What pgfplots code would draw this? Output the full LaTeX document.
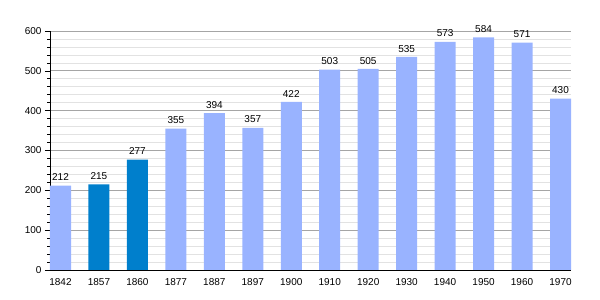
\documentclass[border=0pt]{standalone}
\usepackage{pgfplots}
\pgfplotsset{compat=1.18}
\usepackage{fontspec}
\setmainfont{Liberation Sans}
\definecolor{lightbar}{RGB}{153,179,255}
\definecolor{darkbar}{RGB}{0,127,204}
\definecolor{majgrid}{RGB}{165,165,165}
\definecolor{mingrid}{RGB}{226,226,226}
\begin{document}
\begin{tikzpicture}
\path[use as bounding box] (0,0) rectangle (600bp,300bp);
\begin{axis}[
  at={(50bp,30bp)}, anchor=south west,
  scale only axis, width=521bp, height=239bp,
  xmin=-0.273, xmax=13.273, ymin=0, ymax=600,
  axis x line=bottom, axis y line=left,
  axis line style={-, black, line width=0.8bp},
  xtick={0,...,13},
  xticklabels={1842,1857,1860,1877,1887,1897,1900,1910,1920,1930,1940,1950,1960,1970},
  x tick style={draw=none},
  ytick={0,100,...,600},
  minor y tick num=4,
  tick align=outside,
  major tick length=5bp, minor tick length=2.5bp,
  y tick style={black, line width=0.6bp},
  ymajorgrids, yminorgrids,
  major grid style={majgrid, line width=0.7bp},
  minor grid style={mingrid, line width=0.7bp},
  tick label style={font=\fontsize{10bp}{12bp}\selectfont},
  /pgf/number format/assume math mode=true,
  ybar, bar width=21bp, bar shift=0pt,
  nodes near coords,
  every node near coord/.append style={font=\fontsize{10bp}{12bp}\selectfont, yshift=1.2bp},
]
\addplot[fill=lightbar, draw=none] coordinates {(0,212) (3,355) (4,394) (5,357) (6,422) (7,503) (8,505) (9,535) (10,573) (11,584) (12,571) (13,430)};
\addplot[fill=darkbar, draw=none] coordinates {(1,215) (2,277)};
\end{axis}
\end{tikzpicture}
\end{document}
